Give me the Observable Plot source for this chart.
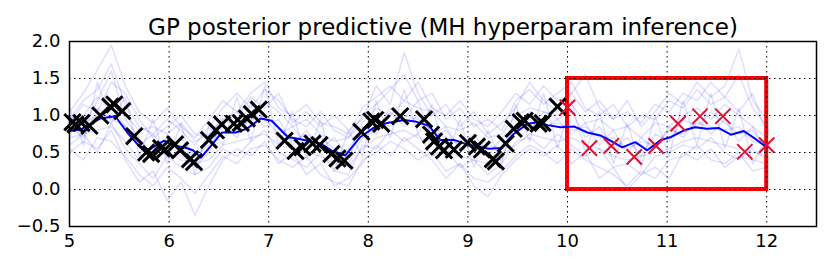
<!DOCTYPE html>
<html>
<head>
<meta charset="utf-8">
<script src="https://cdn.jsdelivr.net/npm/d3@7"></script>
<script src="https://cdn.jsdelivr.net/npm/@observablehq/plot@0.6"></script>
<style>
  html, body { margin: 0; padding: 0; background: #fff; }
  #chart svg { display: block; }
</style>
</head>
<body>
<div id="chart"></div>
<script>
const titleText = "GP posterior predictive (MH hyperparam inference)";
const xTicks = [5, 6, 7, 8, 9, 10, 11, 12];
const yTicks = [-0.5, 0.0, 0.5, 1.0, 1.5, 2.0];

// training observations (black x)
const trainX = [5.03,5.06,5.12,5.20,5.31,5.41,5.45,5.53,5.65,5.77,5.82,5.92,5.96,6.06,6.11,6.21,6.25,6.40,6.47,6.53,6.65,6.72,6.78,6.83,6.90,7.16,7.27,7.34,7.44,7.51,7.63,7.69,7.76,7.93,8.03,8.07,8.13,8.32,8.56,8.63,8.66,8.71,8.76,8.86,9.00,9.09,9.14,9.25,9.28,9.38,9.46,9.53,9.57,9.71,9.75,9.90];
const trainY = [0.91,0.88,0.90,0.86,1.00,1.12,1.15,1.06,0.72,0.50,0.48,0.56,0.54,0.61,0.53,0.41,0.37,0.67,0.80,0.88,0.89,0.90,0.96,1.02,1.08,0.66,0.52,0.57,0.62,0.60,0.48,0.42,0.39,0.78,0.92,0.94,0.89,0.99,0.95,0.74,0.65,0.58,0.53,0.54,0.63,0.58,0.54,0.41,0.38,0.62,0.82,0.91,0.93,0.89,0.90,1.12];

// held-out test points (red x)
const testX = [10.00,10.22,10.44,10.67,10.89,11.11,11.33,11.56,11.78,12.00];
const testY = [1.11,0.56,0.59,0.44,0.59,0.89,0.99,0.99,0.51,0.60];

// posterior predictive mean (blue line)
const meanX = [5.00,5.11,5.31,5.46,5.58,5.71,5.80,5.95,6.05,6.15,6.24,6.32,6.42,6.53,6.67,6.78,6.92,7.03,7.19,7.32,7.52,7.64,7.77,7.92,8.06,8.19,8.36,8.47,8.61,8.72,8.86,8.99,9.21,9.33,9.46,9.60,9.70,9.80,9.93,10.07,10.20,10.33,10.43,10.55,10.68,10.80,10.94,11.04,11.17,11.28,11.40,11.52,11.64,11.77,11.89,12.00];
const meanY = [0.79,0.81,0.96,0.99,0.77,0.57,0.54,0.66,0.59,0.57,0.53,0.43,0.59,0.77,0.77,0.82,0.96,0.93,0.71,0.68,0.62,0.52,0.46,0.71,0.84,0.90,0.94,0.92,0.86,0.67,0.67,0.61,0.55,0.56,0.75,0.89,0.91,0.87,0.84,0.85,0.77,0.73,0.66,0.57,0.64,0.53,0.67,0.71,0.80,0.84,0.82,0.83,0.74,0.79,0.68,0.57];

// posterior samples (faint blue lines)
const sampleX = [5.00,5.14,5.28,5.42,5.56,5.70,5.84,5.98,6.12,6.26,6.40,6.54,6.68,6.82,6.96,7.10,7.24,7.38,7.52,7.66,7.80,7.94,8.08,8.22,8.36,8.50,8.64,8.78,8.92,9.06,9.20,9.34,9.48,9.62,9.76,9.90,10.04,10.18,10.32,10.46,10.60,10.74,10.88,11.02,11.16,11.30,11.44,11.58,11.72,11.86,12.00];
const sample1 = [1.05,1.30,1.62,1.95,1.40,1.05,0.90,1.10,0.85,0.70,0.95,1.20,1.05,1.30,1.45,1.10,1.00,1.15,0.90,0.85,0.75,1.10,1.25,1.40,1.20,1.45,1.10,1.00,1.20,0.95,0.85,1.05,1.30,1.15,1.40,1.20,1.30,1.05,1.20,0.95,1.05,0.90,1.15,1.05,1.30,1.20,1.45,1.25,1.55,1.10,0.85];
const sample2 = [0.55,0.40,0.70,0.65,0.45,0.20,0.05,0.30,0.15,-0.05,0.20,0.45,0.35,0.55,0.60,0.40,0.30,0.45,0.20,0.10,0.05,0.40,0.50,0.65,0.55,0.40,0.50,0.25,0.35,0.15,0.10,0.25,0.45,0.60,0.50,0.35,0.55,0.40,0.30,0.20,0.05,0.25,0.15,0.40,0.45,0.60,0.40,0.35,0.50,0.25,0.30];
const sample3 = [0.85,0.70,1.10,0.95,0.85,0.60,0.75,0.50,0.70,0.45,0.65,0.90,0.70,1.00,0.85,0.95,0.60,0.80,0.55,0.70,0.40,0.85,0.75,1.05,0.85,1.00,0.75,0.85,0.55,0.75,0.45,0.70,0.85,1.05,0.80,0.95,0.75,0.90,0.60,0.80,0.50,0.70,0.55,0.85,0.70,0.95,0.75,0.95,0.65,0.85,0.50];
const sample4 = [0.95,1.20,1.35,1.70,1.15,0.85,0.75,0.95,0.80,0.60,0.85,1.10,1.30,1.10,1.35,1.20,0.95,0.85,1.05,0.80,0.70,1.00,1.15,1.35,1.55,1.20,1.30,0.95,1.10,0.85,0.95,0.80,1.20,1.35,1.15,1.30,1.45,1.10,1.00,1.15,0.85,1.00,0.95,1.20,1.10,1.35,1.15,1.25,1.05,1.30,0.75];
const sample5 = [0.50,0.65,0.55,0.80,0.40,0.10,0.25,-0.15,0.10,-0.35,0.05,0.40,0.55,0.45,0.65,0.35,0.50,0.20,0.35,0.05,0.15,0.35,0.60,0.45,0.70,0.55,0.40,0.15,0.35,0.05,-0.10,0.20,0.40,0.55,0.45,0.60,0.35,0.50,0.15,0.30,0.00,0.20,0.30,0.15,0.50,0.40,0.55,0.30,0.45,0.40,0.35];
const sample6 = [0.80,1.00,1.25,1.10,1.00,0.80,0.85,0.75,0.90,0.65,0.75,0.95,1.05,0.90,1.20,1.05,0.85,0.95,0.75,0.65,0.70,0.90,1.10,1.00,1.20,1.10,1.05,0.85,0.80,0.90,0.70,0.75,1.00,1.10,1.05,1.00,1.15,0.90,0.95,0.80,0.85,0.70,0.90,0.85,1.00,1.10,0.95,1.15,1.00,0.85,0.70];
const sample7 = [0.70,0.75,0.80,0.85,0.65,0.40,0.45,0.50,0.40,0.35,0.40,0.60,0.65,0.70,0.75,0.60,0.55,0.50,0.45,0.35,0.30,0.55,0.70,0.75,0.80,0.70,0.65,0.50,0.45,0.40,0.35,0.45,0.60,0.75,0.70,0.65,0.70,0.60,0.55,0.45,0.40,0.45,0.50,0.55,0.65,0.70,0.65,0.60,0.55,0.50,0.45];
const sample8 = [1.10,0.60,1.45,0.90,1.25,0.45,0.95,0.35,0.90,0.20,0.85,0.60,1.25,0.65,1.40,0.60,1.05,0.40,0.95,0.25,0.80,0.45,1.20,0.70,1.35,0.75,1.15,0.40,0.95,0.30,0.80,0.35,1.15,0.65,1.30,0.55,1.20,0.50,1.05,0.35,0.90,0.30,1.00,0.45,1.20,0.60,1.30,0.55,1.10,0.35,0.70];
const sample9 = [0.90,1.15,1.05,1.45,1.30,0.95,0.70,0.85,1.00,0.75,0.70,1.00,0.95,1.25,1.10,1.30,0.90,1.05,0.85,1.00,0.80,0.95,1.40,1.15,1.85,1.30,1.00,1.15,0.85,1.05,0.75,0.90,1.10,1.45,1.20,1.05,1.30,1.55,1.10,0.95,1.20,0.85,1.05,1.30,1.15,1.45,1.25,1.40,1.90,1.20,0.95];
const sample10 = [0.60,0.75,0.50,0.90,0.55,0.35,0.15,0.45,0.30,0.20,0.30,0.55,0.45,0.65,0.80,0.50,0.40,0.30,0.50,0.25,0.20,0.60,0.55,0.80,0.65,0.75,0.45,0.55,0.30,0.40,0.20,0.35,0.65,0.70,0.55,0.75,0.60,0.45,0.55,0.30,0.35,0.20,0.45,0.50,0.60,0.55,0.70,0.50,0.40,0.55,0.40];
const sample11 = [0.75,0.90,1.00,1.15,0.85,0.65,0.50,0.70,0.55,0.45,0.60,0.85,0.80,0.95,1.00,0.85,0.65,0.75,0.60,0.45,0.55,0.80,0.95,0.85,1.00,0.95,0.80,0.70,0.65,0.55,0.60,0.55,0.85,0.95,0.85,0.90,0.80,0.85,0.70,0.70,0.55,0.65,0.60,0.80,0.75,0.90,0.85,0.80,0.85,0.65,0.60];
const sample12 = [1.00,0.85,1.20,1.60,0.95,0.70,0.40,0.65,0.45,0.30,0.50,0.95,0.85,1.15,0.95,0.75,0.85,0.60,0.70,0.55,0.35,0.70,0.80,1.10,0.95,1.20,0.70,0.80,0.55,0.50,0.45,0.40,0.90,0.80,1.05,0.95,1.05,0.70,0.85,0.55,0.70,0.45,0.75,0.65,0.95,0.85,1.05,0.90,0.75,0.80,0.55];
const samples = [sample1,sample2,sample3,sample4,sample5,sample6,sample7,sample8,sample9,sample10,sample11,sample12];

// held-out region box
const boxX = [10, 12];
const boxY = [0, 1.5];

// ---- build tables ----
const train = trainX.map((x, i) => ({x, y: trainY[i]}));
const test = testX.map((x, i) => ({x, y: testY[i]}));
const mean = meanX.map((x, i) => ({x, y: meanY[i]}));
const sampleRows = samples.flatMap((s, k) => s.map((y, i) => ({x: sampleX[i], y, id: k})).filter(d => d.x !== undefined));
const box = [{x1: boxX[0], x2: boxX[1], y1: boxY[0], y2: boxY[1]}];

const fmt = v => (v < 0 ? "\u2212" : "") + Math.abs(v).toFixed(1);

const chart = Plot.plot({
  width: 830,
  height: 267,
  marginLeft: 69,
  marginRight: 14,
  marginTop: 41,
  marginBottom: 41,
  style: {fontFamily: "DejaVu Sans, sans-serif", background: "#fff", overflow: "visible"},
  x: {domain: [5, 12.5]},
  y: {domain: [-0.5, 2.0]},
  marks: [
    Plot.line(sampleRows, {x: "x", y: "y", z: "id", stroke: "#0000ff", strokeOpacity: 0.13, strokeWidth: 1.5, clip: true}),
    Plot.rect(box, {x1: "x1", x2: "x2", y1: "y1", y2: "y2", fill: "none", stroke: "#ff0000", strokeWidth: 4}),
    Plot.gridX(xTicks, {stroke: "#000", strokeOpacity: 1, strokeWidth: 1, strokeDasharray: "1.5,3.5"}),
    Plot.gridY(yTicks, {stroke: "#000", strokeOpacity: 1, strokeWidth: 1, strokeDasharray: "1.5,3.5"}),
    Plot.line(mean, {x: "x", y: "y", stroke: "#0000ff", strokeWidth: 2}),
    Plot.dot(train, {x: "x", y: "y", symbol: "times", r: 7.5, stroke: "#000", strokeWidth: 3}),
    Plot.dot(test, {x: "x", y: "y", symbol: "times", r: 7, stroke: "#e0102e", strokeWidth: 2}),
    Plot.axisX(xTicks, {tickSize: 0, tickPadding: 8, fontSize: 18, fill: "#000", tickFormat: d => String(d)}),
    Plot.axisY(yTicks, {tickSize: 0, tickPadding: 9, fontSize: 18, fill: "#000", tickFormat: fmt}),
    Plot.frame({stroke: "#000", strokeWidth: 1.5}),
    Plot.text([titleText], {frameAnchor: "top", dy: -23, text: d => d, fontSize: 23, fill: "#000"})
  ]
});
document.getElementById("chart").appendChild(chart);
</script>
</body>
</html>
